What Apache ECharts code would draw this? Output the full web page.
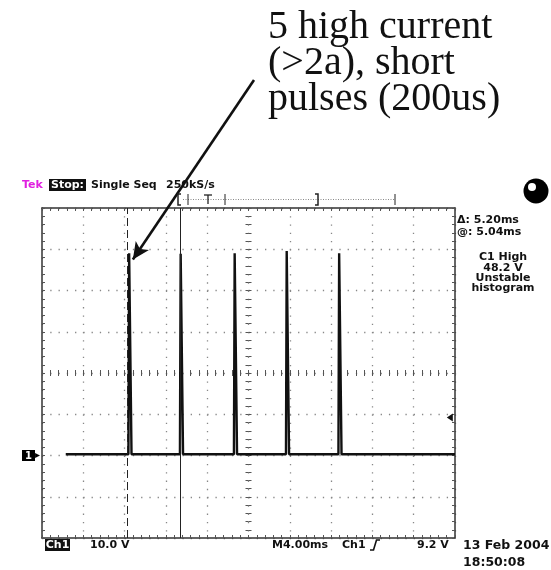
<!DOCTYPE html>
<html><head><meta charset="utf-8">
<script src="https://cdn.jsdelivr.net/npm/echarts@6/dist/echarts.min.js"></script>
<style>html,body{margin:0;padding:0;background:#fff}#c{width:551px;height:570px}</style>
</head><body><div id="c"></div>
<script>
// ---- data (time in ms, Ch1 in volts) ----
const timeMs = [2.3, 8.37, 8.44, 8.60, 8.67, 13.36, 13.43, 13.59, 13.66, 18.59, 18.66, 18.82, 18.89, 23.63, 23.70, 23.86, 23.93, 28.71, 28.78, 28.94, 29.01, 40];
const volts  = [0.3, 0.3, 49.0, 49.0, 0.3, 0.3, 48.9, 48.9, 0.3, 0.3, 49.0, 49.0, 0.3, 0.3, 49.6, 49.6, 0.3, 0.3, 49.0, 49.0, 0.3, 0.3];
const cursorMs = [8.22, 13.42];
const triggerLevelV = 9.2;
const arrowTip = [8.8, 47.5];
const xRange = [0, 40], xDiv = 4;      // 4.00 ms/div, 10 div
const yRange = [-20, 60], yDiv = 10;   // 10.0 V/div, 8 div
const groundLabel = '1';
const annotation = '5 high current\n(>2a), short\npulses (200us)';

const FONT = 'DejaVu Sans';
const tickCol = '#555';

function edgeAxis(dim, pos) {
  const r = dim === 'x' ? xRange : yRange, d = dim === 'x' ? xDiv : yDiv;
  return {
    type: 'value', position: pos, min: r[0], max: r[1], interval: d, gridIndex: 0,
    axisLine: { show: true, onZero: false, lineStyle: { color: '#333', width: 1.5 } },
    axisTick: { show: true, inside: true, length: 3, lineStyle: { color: tickCol } },
    minorTick: { show: true, splitNumber: 5, length: 3, lineStyle: { color: tickCol } },
    axisLabel: { show: false }, splitLine: { show: false }, minorSplitLine: { show: false }
  };
}
function centerAxis(dim, pos, offset, inside) {
  const a = edgeAxis(dim, pos);
  a.offset = offset;
  a.axisLine = { show: false, onZero: false };
  a.axisTick = { show: true, inside: inside, length: 3, lineStyle: { color: tickCol } };
  a.minorTick = { show: true, splitNumber: 5, length: 3, lineStyle: { color: tickCol } };
  return a;
}
const gridDots = { show: true, lineStyle: { color: '#888', width: 1.3, type: [1.3, 6.96] } };

const x0 = edgeAxis('x', 'bottom'); x0.splitLine = gridDots;
const y0 = edgeAxis('y', 'left'); y0.splitLine = gridDots;
y0.axisLabel = {
  show: true, margin: 2, showMinLabel: true, showMaxLabel: true,
  formatter: v => v === 0 ? '{b|' + groundLabel + '}{a|▸}' : '',
  rich: {
    b: { backgroundColor: '#000', color: '#fff', fontFamily: FONT, fontWeight: 'bold', fontSize: 10, padding: [1, 3, 0, 3] },
    a: { color: '#000', fontSize: 10, fontFamily: FONT }
  }
};

const chart = echarts.init(document.getElementById('c'), null, { renderer: 'canvas' });

function txt(x, y, t, o) {
  o = o || {};
  return { type: 'text', x: x, y: y, z: 10, style: Object.assign({
    text: t, fill: '#111', font: 'bold 11px "' + FONT + '"', textVerticalAlign: 'middle', textAlign: 'left'
  }, o) };
}
function pl(points, o) {
  return { type: 'polyline', z: 10, shape: { points: points }, style: Object.assign({ stroke: '#222', lineWidth: 1, fill: null }, o || {}) };
}

chart.setOption({
  animation: false,
  backgroundColor: '#fff',
  title: {
    text: annotation, left: 268, top: 9, padding: 0,
    textStyle: { fontFamily: 'Liberation Serif', fontSize: 40, lineHeight: 36, fontWeight: 'normal', color: '#111' }
  },
  grid: { left: 42, top: 208, width: 413, height: 330, containLabel: false },
  xAxis: [x0, edgeAxis('x', 'top'), centerAxis('x', 'bottom', -165, true), centerAxis('x', 'bottom', -165, false)],
  yAxis: [y0, edgeAxis('y', 'right'), centerAxis('y', 'left', -206.5, true), centerAxis('y', 'left', -206.5, false)],
  series: [{
    type: 'line', xAxisIndex: 0, yAxisIndex: 0, showSymbol: false, silent: true,
    data: timeMs.map((t, i) => [t, volts[i]]),
    lineStyle: { color: '#111', width: 2.4 },
    markLine: {
      silent: true, animation: false, symbol: ['none', 'none'], label: { show: false },
      data: [
        [{ xAxis: cursorMs[0], lineStyle: { type: [8, 4], color: '#222', width: 1 } }, { xAxis: cursorMs[0] }],
        [{ xAxis: cursorMs[1], lineStyle: { type: 'solid', color: '#222', width: 1 } }, { xAxis: cursorMs[1] }]
      ].map(p => [Object.assign({ yAxis: yRange[0] }, p[0]), Object.assign({ yAxis: yRange[1] }, p[1])]).concat([
        [{ x: 254, y: 80, symbol: 'none', lineStyle: { type: 'solid', color: '#111', width: 2.6 } },
         { coord: arrowTip, symbol: 'arrow', symbolSize: [12, 17] }]
      ])
    },
    markPoint: {
      silent: true, animation: false, label: { show: false },
      data: [{ coord: [39.5, triggerLevelV], symbol: 'path://M0,5L8,0L8,10Z', symbolSize: [6, 8], itemStyle: { color: '#111' } }]
    }
  }],
  graphic: [
    // header
    txt(22, 185, 'Tek', { fill: '#e020e0' }),
    { type: 'rect', z: 9, shape: { x: 49, y: 179, width: 37, height: 12 }, style: { fill: '#111' } },
    txt(67.5, 185, 'Stop:', { fill: '#fff', textAlign: 'center' }),
    txt(91, 185, 'Single Seq'),
    txt(166, 185, '250kS/s'),
    // record bar
    pl([[181, 194], [178, 194], [178, 205], [181, 205]], { lineWidth: 1.5 }),
    { type: 'line', z: 9, shape: { x1: 183, y1: 199.5, x2: 395, y2: 199.5 }, style: { stroke: '#888', lineWidth: 1, lineDash: [1, 1.5] } },
    pl([[188, 194], [188, 205]]),
    pl([[225, 194], [225, 205]]),
    pl([[395, 194], [395, 205]]),
    pl([[204, 195], [212, 195]], { lineWidth: 1.3 }),
    pl([[208, 195], [208, 204]], { lineWidth: 1.3 }),
    pl([[315, 194], [318, 194], [318, 205], [315, 205]], { lineWidth: 1.5 }),
    // ball
    { type: 'circle', z: 9, shape: { cx: 536, cy: 191, r: 12.5 }, style: { fill: '#000' } },
    { type: 'circle', z: 10, shape: { cx: 532, cy: 187, r: 4 }, style: { fill: '#fff' } },
    // right readouts
    txt(457, 220, 'Δ: 5.20ms'),
    txt(457, 232, '@: 5.04ms'),
    txt(503, 257, 'C1 High', { textAlign: 'center' }),
    txt(503, 268, '48.2 V', { textAlign: 'center' }),
    txt(503, 278, 'Unstable', { textAlign: 'center' }),
    txt(503, 288, 'histogram', { textAlign: 'center' }),
    // bottom readouts
    { type: 'rect', z: 9, shape: { x: 45, y: 539, width: 25, height: 12 }, style: { fill: '#111' } },
    txt(57.5, 545, 'Ch1', { fill: '#fff', textAlign: 'center' }),
    txt(90, 545, '10.0 V'),
    txt(272, 545, 'M4.00ms'),
    txt(342, 545, 'Ch1'),
    pl([[370, 550], [373.5, 550], [376.5, 540], [380, 540]], { lineWidth: 1.6, stroke: '#111' }),
    txt(417, 545, '9.2 V'),
    txt(463, 546, '13 Feb 2004', { font: 'bold 12.5px "' + FONT + '"' }),
    txt(463, 563, '18:50:08', { font: 'bold 12.5px "' + FONT + '"' })
  ]
});
</script></body></html>
